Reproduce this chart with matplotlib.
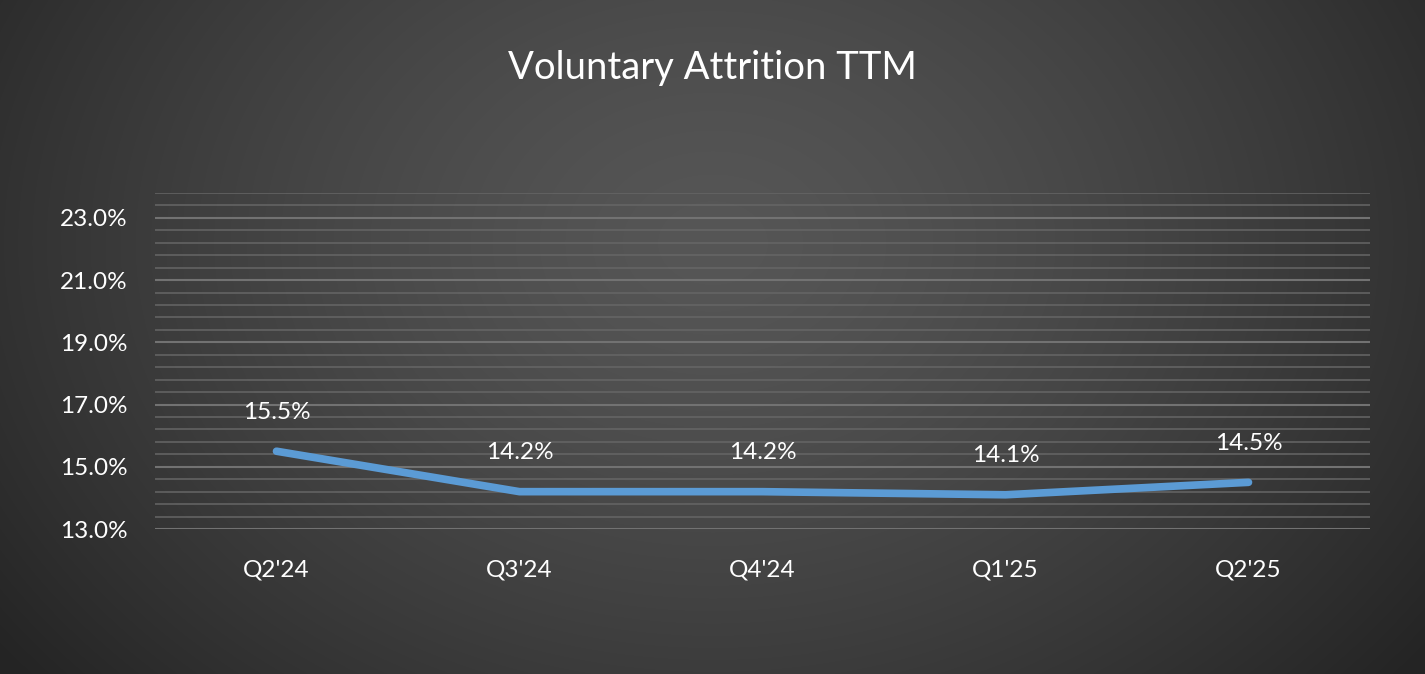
import numpy as np
import matplotlib
matplotlib.use("Agg")
import matplotlib.pyplot as plt
from matplotlib.ticker import FixedLocator, FuncFormatter

categories = ["Q2'24", "Q3'24", "Q4'24", "Q1'25", "Q2'25"]
values = [15.5, 14.2, 14.2, 14.1, 14.5]
labels = ["15.5%", "14.2%", "14.2%", "14.1%", "14.5%"]
yticks = [13, 15, 17, 19, 21, 23]

W, H = 1425, 674
fig = plt.figure(figsize=(W / 100, H / 100), dpi=100)

# radial gradient background
bg = fig.add_axes([0, 0, 1, 1], zorder=-10)
yy, xx = np.mgrid[0:H, 0:W]
cx, cy = W * 0.5, H * 0.36
r = np.sqrt(((xx - cx) / (W * 0.62)) ** 2 + ((yy - cy) / (H * 1.0)) ** 2)
inner, outer = 0x56 / 255, 0x25 / 255
val = inner + (outer - inner) * np.clip(r, 0, 1) ** 1.4
img = np.dstack([val, val, val])
bg.imshow(img, aspect="auto", extent=[0, 1, 0, 1], origin="upper")
bg.axis("off")

ax = fig.add_axes([155 / W, 1 - 529 / H, (1370 - 155) / W, (529 - 193) / H])
ax.patch.set_alpha(0)
x = np.arange(len(categories))
ax.plot(x, values, color="#5B9BD5", lw=5.5, solid_capstyle="round", zorder=5)
for xi, v, lab in zip(x, values, labels):
    ax.annotate(lab, (xi, v), xytext=(0, 28), textcoords="offset points",
                ha="center", va="center", color="white", fontsize=17.5, family="Lato")

ax.set_xlim(-0.5, len(categories) - 0.5)
ax.set_ylim(13, 23.8)
ax.set_yticks(yticks)
ax.yaxis.set_minor_locator(FixedLocator(np.arange(13, 23.81, 0.4)))
ax.yaxis.set_major_formatter(FuncFormatter(lambda v, p: f"{v:.1f}%"))
ax.set_xticks(x)
ax.set_xticklabels(categories)
ax.grid(which="minor", axis="y", color="#666666", lw=1.1)
ax.grid(which="major", axis="y", color="#727272", lw=1.5)
ax.tick_params(which="both", length=0)
ax.tick_params(axis="y", pad=20, labelsize=17.5, labelcolor="white")
ax.tick_params(axis="x", pad=22, labelsize=17.5, labelcolor="white")
for t in ax.get_xticklabels() + ax.get_yticklabels():
    t.set_family("Lato")
for s in ax.spines.values():
    s.set_visible(False)

fig.text(0.5, 1 - 68 / H, "Voluntary Attrition TTM", ha="center", va="center",
         color="white", fontsize=27.5, family="Lato")

fig.savefig("out.png", dpi=100)
